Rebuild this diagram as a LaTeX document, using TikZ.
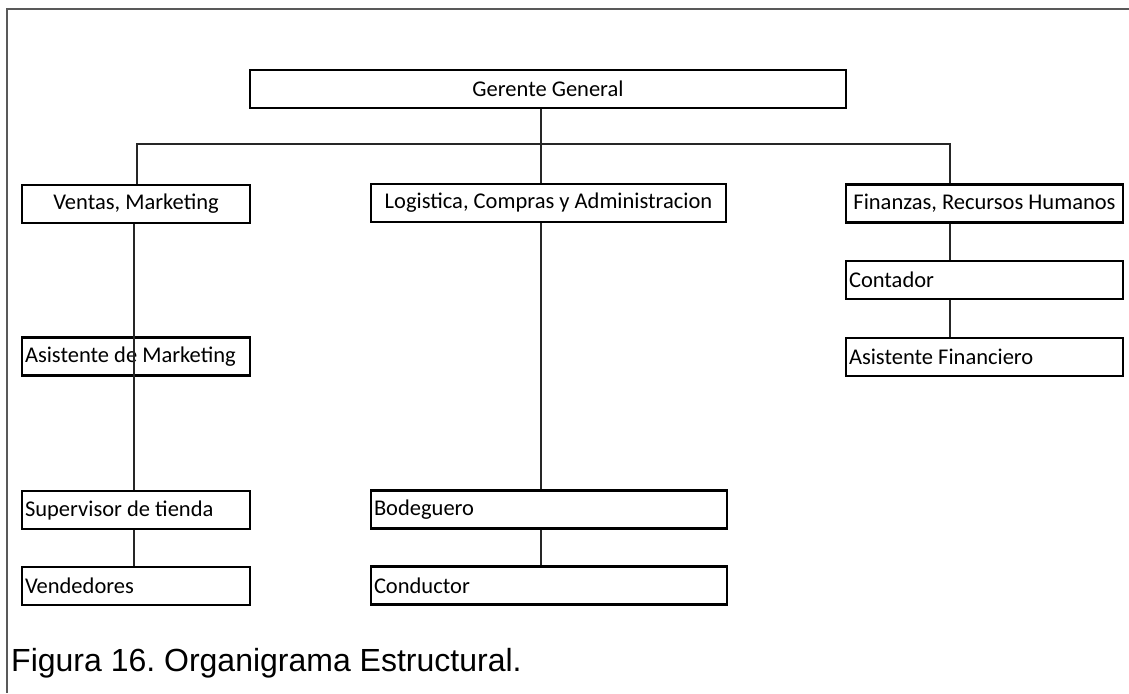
\documentclass[tikz,border=0pt]{standalone}
\usepackage{fontspec}
\newfontfamily\carlito{Carlito}
\newfontfamily\arialf{Liberation Sans}
\begin{document}
\frenchspacing
\begin{tikzpicture}[x=1pt,y=-1pt,
  box/.style={draw=black, line width=2.4pt, minimum height=38pt, inner ysep=0pt, inner xsep=3pt,
    font=\carlito\fontsize{22.5}{24}\selectfont},
  lbox/.style={box, align=flush left, text width=#1-6pt},
  cbox/.style={box, align=flush center, minimum width=#1},
  conn/.style={draw=black!85, line width=1.6pt},
  frame/.style={draw=black!65, line width=2.2pt}]
\useasboundingbox (0,0) rectangle (1129,693);
\draw[frame] (1129,9) -- (7,9) -- (7,693);

\node[cbox=596pt] (ger) at (548,89) {Gerente General};
\node[cbox=228pt] (vent) at (136,204) {Ventas, Marketing};
\node[cbox=355pt] (log) at (548.5,203) {Logistica, Compras y Administracion};
\node[cbox=277pt] (fin) at (984.5,203.5) {Finanzas, Recursos Humanos};
\node[lbox=277pt] (cont) at (984.5,280) {Contador};
\node[lbox=277pt] (af) at (984.5,357) {Asistente Financiero};
\node[lbox=228pt] (am) at (136,356.5) {Asistente de Marketing};
\node[lbox=228pt] (sup) at (136,510) {Supervisor de tienda};
\node[lbox=228pt] (vend) at (136,586) {Vendedores};
\node[lbox=356pt] (bod) at (549,509.5) {Bodeguero};
\node[lbox=356pt] (cond) at (549,585.5) {Conductor};

\coordinate (busL) at (137,144);
\coordinate (busM) at (541,144);
\coordinate (busR) at (950,144);
\coordinate (lc) at (134,0);

\draw[conn] (busM |- ger.south) -- (busM);
\draw[conn] (vent.north -| busL) -- (busL) -- (busR) -- (fin.north -| busR);
\draw[conn] (busM) -- (log.north -| busM);
\draw[conn] (log.south -| busM) -- (bod.north -| busM);
\draw[conn] (bod.south -| busM) -- (cond.north -| busM);
\draw[conn] (fin.south -| busR) -- (cont.north -| busR);
\draw[conn] (cont.south -| busR) -- (af.north -| busR);
\draw[conn] (vent.south -| lc) -- (sup.north -| lc);
\draw[conn] (sup.south -| lc) -- (vend.north -| lc);

\node[anchor=base west, inner sep=0pt, font=\arialf\fontsize{32}{35}\selectfont] (cap) at (11,671) {Figura 16. Organigrama Estructural.};
\end{tikzpicture}
\end{document}
